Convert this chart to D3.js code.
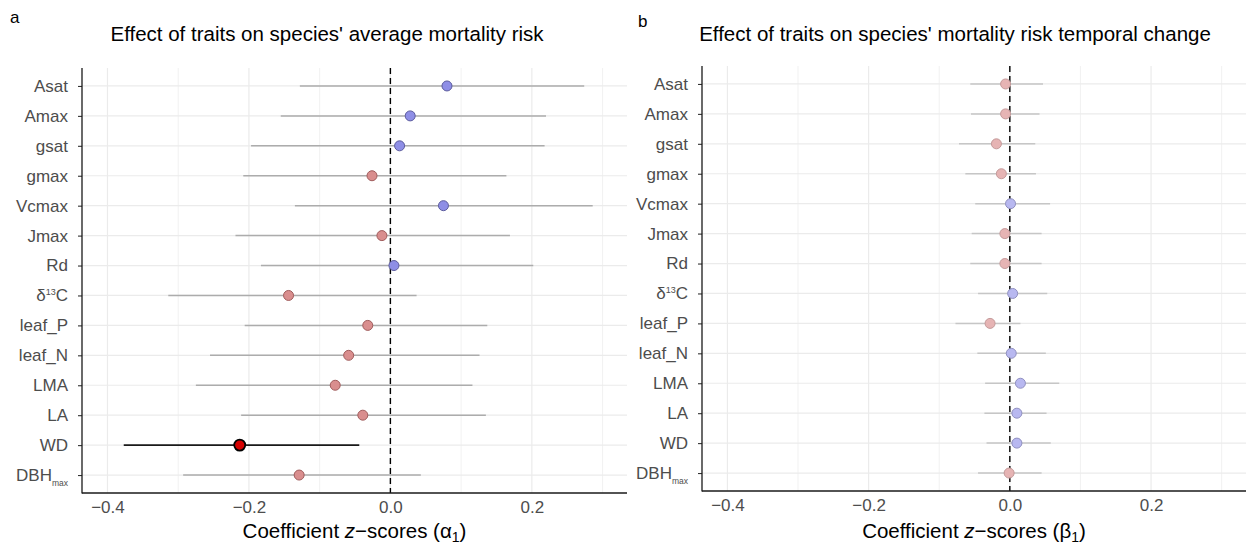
<!DOCTYPE html>
<html>
<head>
<meta charset="utf-8">
<script src="https://cdn.jsdelivr.net/npm/d3@7"></script>
<style>
  body { margin: 0; background: #fff; }
  text { font-family: "Liberation Sans", Arial, sans-serif; }
</style>
</head>
<body>
<svg id="chart" width="1246" height="545"></svg>
<script>
// trait names, top to bottom
const traits = ["Asat", "Amax", "gsat", "gmax", "Vcmax", "Jmax", "Rd", "d13C", "leaf_P", "leaf_N", "LMA", "LA", "WD", "DBHmax"];

// panel a: average mortality risk (alpha1)
const alphaEst = [0.080, 0.028, 0.013, -0.026, 0.075, -0.012, 0.005, -0.144, -0.032, -0.059, -0.078, -0.039, -0.213, -0.129];
const alphaLo  = [-0.128, -0.155, -0.197, -0.208, -0.135, -0.219, -0.183, -0.314, -0.206, -0.255, -0.275, -0.211, -0.377, -0.293];
const alphaHi  = [0.274, 0.220, 0.218, 0.164, 0.286, 0.169, 0.202, 0.037, 0.137, 0.126, 0.116, 0.135, -0.044, 0.043];

// panel b: temporal change (beta1)
const betaEst = [-0.006, -0.006, -0.019, -0.012, 0.001, -0.007, -0.007, 0.004, -0.028, 0.002, 0.015, 0.010, 0.010, -0.001];
const betaLo  = [-0.056, -0.055, -0.072, -0.063, -0.049, -0.054, -0.056, -0.045, -0.077, -0.046, -0.035, -0.036, -0.033, -0.045];
const betaHi  = [0.047, 0.042, 0.036, 0.037, 0.057, 0.045, 0.045, 0.053, 0.015, 0.051, 0.070, 0.052, 0.058, 0.045];

const xMajor = [-0.4, -0.2, 0.0, 0.2];
const xMinor = [-0.3, -0.1, 0.1, 0.3];

const svg = d3.select("#chart");

function drawPanel(opt) {
  const x = d3.scaleLinear().domain([-0.436, 0.3345]).range([opt.left, opt.right]);
  const y = d3.scalePoint().domain(traits).range([opt.top, opt.bottom]).padding(0.6);
  const g = svg.append("g");

  // grid
  g.selectAll(".gminor").data(xMinor).join("line")
    .attr("x1", d => x(d)).attr("x2", d => x(d))
    .attr("y1", opt.top).attr("y2", opt.bottom)
    .attr("stroke", "#ebebeb").attr("stroke-width", 0.7);
  g.selectAll(".gmajor").data(xMajor).join("line")
    .attr("x1", d => x(d)).attr("x2", d => x(d))
    .attr("y1", opt.top).attr("y2", opt.bottom)
    .attr("stroke", "#ebebeb").attr("stroke-width", 1.2);
  g.selectAll(".grow").data(traits).join("line")
    .attr("x1", opt.left).attr("x2", opt.right)
    .attr("y1", d => y(d)).attr("y2", d => y(d))
    .attr("stroke", "#ebebeb").attr("stroke-width", 1.2);

  const rows = traits.map((t, i) => ({
    t, est: opt.est[i], lo: opt.lo[i], hi: opt.hi[i],
    sig: opt.lo[i] > 0 || opt.hi[i] < 0
  }));

  // intervals
  g.selectAll(".ci").data(rows).join("line")
    .attr("x1", d => x(d.lo)).attr("x2", d => x(d.hi))
    .attr("y1", d => y(d.t)).attr("y2", d => y(d.t))
    .attr("stroke", d => d.sig ? "#1a1a1a" : opt.ciCol)
    .attr("stroke-width", d => d.sig ? 1.8 : 1.5);

  // zero line
  g.append("line")
    .attr("x1", x(0)).attr("x2", x(0))
    .attr("y1", opt.top).attr("y2", opt.bottom)
    .attr("stroke", "#000").attr("stroke-width", 1.4)
    .attr("stroke-dasharray", "6,4");

  // points
  g.selectAll(".pt").data(rows).join("circle")
    .attr("cx", d => x(d.est)).attr("cy", d => y(d.t))
    .attr("r", d => d.sig ? 5.5 : 5)
    .attr("fill", d => d.sig ? "#d40000" : (d.est > 0 ? opt.blue : opt.red))
    .attr("stroke", d => d.sig ? "#000" : (d.est > 0 ? opt.blueEdge : opt.redEdge))
    .attr("stroke-width", d => d.sig ? 1.8 : 1);

  // axes
  const ax = g.append("g").attr("transform", `translate(${opt.left},0)`)
    .call(d3.axisLeft(y).tickSize(4).tickSizeOuter(0).tickPadding(10));
  ax.select(".domain").remove();
  ax.selectAll("line").attr("stroke", "#333").attr("stroke-width", 1.1);
  ax.selectAll("text").attr("font-size", 17).attr("fill", "#4d4d4d")
    .each(function (d) {
      const s = d3.select(this);
      if (d === "d13C") {
        s.text("");
        s.append("tspan").text("\u03b4");
        s.append("tspan").attr("font-size", 9).attr("dy", -6).text("13");
        s.append("tspan").attr("dy", 6).text("C");
      } else if (d === "DBHmax") {
        s.text("");
        s.append("tspan").text("DBH");
        s.append("tspan").attr("font-size", 8.5).attr("dy", 5).text("max");
      }
    });

  const bx = g.append("g").attr("transform", `translate(0,${opt.bottom})`)
    .call(d3.axisBottom(x).tickValues(xMajor).tickFormat(d3.format(".1f")).tickSize(0).tickPadding(8));
  bx.select(".domain").remove();
  bx.selectAll("text").attr("font-size", 17).attr("fill", "#4d4d4d");

  g.append("line")
    .attr("x1", opt.left).attr("x2", opt.left)
    .attr("y1", opt.top).attr("y2", opt.bottom + 0.6)
    .attr("stroke", "#1a1a1a").attr("stroke-width", 1.3);
  g.append("line")
    .attr("x1", opt.left).attr("x2", opt.right)
    .attr("y1", opt.bottom).attr("y2", opt.bottom)
    .attr("stroke", "#1a1a1a").attr("stroke-width", 1.3);

  // titles
  g.append("text").attr("x", opt.tagX).attr("y", opt.tagY)
    .attr("font-size", 17).text(opt.tag);
  g.append("text").attr("x", opt.titleX).attr("y", 41)
    .attr("text-anchor", "middle").attr("font-size", 20.5).text(opt.title);

  const xl = g.append("text").attr("x", (opt.left + opt.right) / 2).attr("y", 538)
    .attr("text-anchor", "middle").attr("font-size", 20.5);
  xl.append("tspan").text("Coefficient ");
  xl.append("tspan").attr("font-style", "italic").text("z");
  xl.append("tspan").text("\u2212scores (" + opt.sym);
  xl.append("tspan").attr("font-size", 14).attr("dy", 4).text("1");
  xl.append("tspan").attr("dy", -4).text(")");
}

drawPanel({
  left: 82, right: 627, top: 68, bottom: 493,
  est: alphaEst, lo: alphaLo, hi: alphaHi,
  blue: "#8e8ee6", blueEdge: "#5c5c9e", red: "#d98e8e", redEdge: "#a05c5c",
  ciCol: "#acacac",
  tag: "a", tagX: 10, tagY: 23, titleX: 327,
  title: "Effect of traits on species' average mortality risk",
  sym: "\u03b1"
});

drawPanel({
  left: 702, right: 1246, top: 66, bottom: 491,
  est: betaEst, lo: betaLo, hi: betaHi,
  blue: "#b8b8f0", blueEdge: "#9090c0", red: "#e6b4b4", redEdge: "#c49a9a",
  ciCol: "#c6c6c6",
  tag: "b", tagX: 638, tagY: 27, titleX: 955,
  title: "Effect of traits on species' mortality risk temporal change",
  sym: "\u03b2"
});
</script>
</body>
</html>
